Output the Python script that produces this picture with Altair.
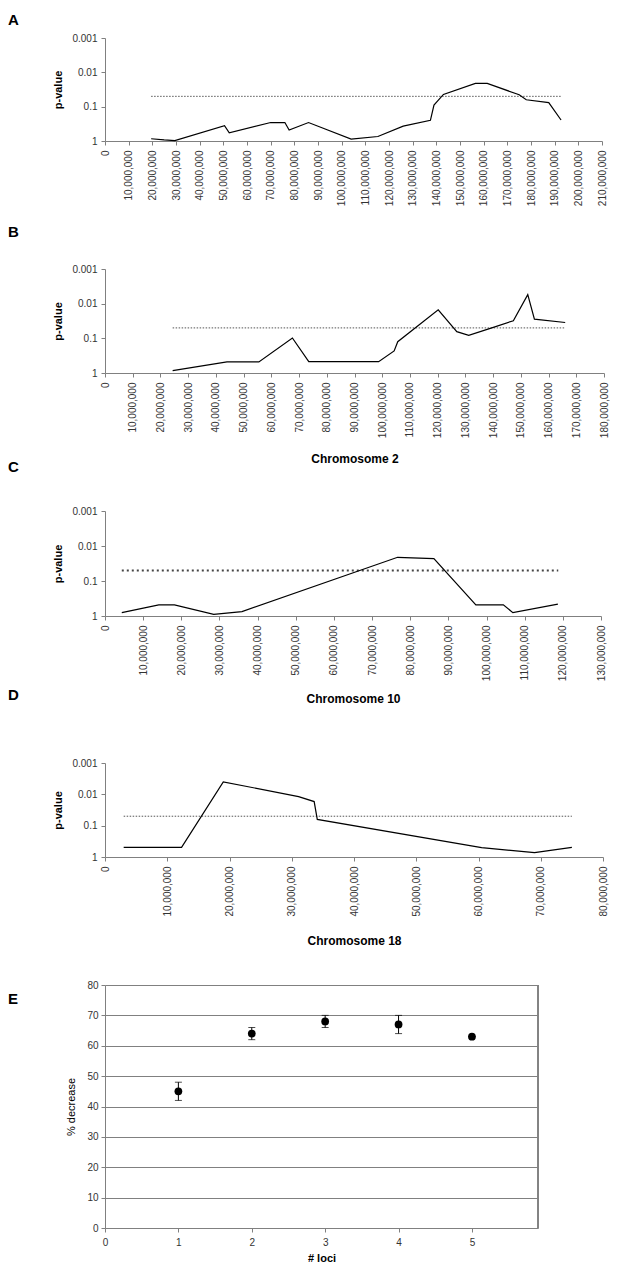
import altair as alt
import pandas as pd

FONT = "Liberation Sans"
AXIS_GRAY = "#808080"
LABEL_COLOR = "#333333"

# ---------------- data ----------------
THR_P = [0.05, 0.05]

a_pos = [19_500_000, 25_000_000, 29_500_000, 50_500_000, 52_500_000, 70_000_000, 76_000_000,
         77_800_000, 86_000_000, 104_000_000, 115_300_000, 126_000_000, 137_500_000, 139_000_000,
         143_000_000, 156_500_000, 161_500_000, 175_000_000, 178_000_000, 187_500_000, 192_700_000]
a_p = [0.86, 0.93, 0.97, 0.36, 0.58, 0.29, 0.29, 0.48, 0.29, 0.88, 0.74, 0.37, 0.25, 0.09,
       0.044, 0.021, 0.021, 0.045, 0.063, 0.076, 0.245]
a_thr = [19_500_000, 192_700_000]

b_pos = [24_400_000, 44_000_000, 55_500_000, 67_600_000, 73_500_000, 98_700_000, 104_300_000,
         105_600_000, 120_200_000, 126_900_000, 131_200_000, 139_800_000, 147_300_000,
         152_500_000, 154_900_000, 166_000_000]
b_p = [0.85, 0.48, 0.48, 0.098, 0.47, 0.47, 0.23, 0.125, 0.015, 0.064, 0.082, 0.049, 0.031,
       0.0055, 0.028, 0.035]
b_thr = [24_400_000, 166_000_000]

c_pos = [4_400_000, 14_100_000, 18_200_000, 28_500_000, 35_900_000, 76_700_000, 86_200_000,
         97_200_000, 104_400_000, 106_900_000, 118_700_000]
c_p = [0.80, 0.48, 0.48, 0.90, 0.75, 0.021, 0.023, 0.48, 0.48, 0.80, 0.46]
c_thr = [4_400_000, 118_800_000]

d_pos = [3_000_000, 12_300_000, 19_000_000, 31_100_000, 33_600_000, 34_100_000, 60_500_000,
         69_000_000, 75_000_000]
d_p = [0.49, 0.49, 0.004, 0.0118, 0.017, 0.063, 0.50, 0.73, 0.49]
d_thr = [3_000_000, 75_000_000]

e_loci = [1, 2, 3, 4, 5]
e_mean = [45, 64, 68, 67, 63]
e_lo = [42, 62, 66, 64, 63]
e_hi = [48, 66, 70, 70, 63]
E_XMAX = 5.9

P_TICKS = [0.001, 0.01, 0.1, 1]
LETTER_DX = -97


def letter_title(letter, offset, dy):
    return alt.TitleParams(text=letter, anchor="start", frame="group", orient="top",
                           offset=offset, dx=LETTER_DX, dy=dy, baseline="alphabetic",
                           fontSize=15, fontWeight="bold", font=FONT, color="black")


def chrom_panel(letter, pos, pv, thr, xmax, width, pad_top, plot_h, t_offset, t_dy,
                xtitle, xtitle_pad, dash, dash_w, dash_c):
    h = pad_top + plot_h
    line_df = pd.DataFrame({"pos": pos, "p": pv})
    thr_df = pd.DataFrame({"pos": thr, "p": THR_P})
    x_axis = alt.Axis(values=list(range(0, xmax + 1, 10_000_000)), format=",d", labelAngle=270,
                      labelFlush=False, labelOverlap=False, labelPadding=5,
                      title=xtitle, titlePadding=xtitle_pad, titleFontSize=12,
                      titleFontWeight="bold")
    x = alt.X("pos:Q", scale=alt.Scale(domain=[0, xmax], nice=False, zero=False), axis=x_axis)
    y = alt.Y("p:Q",
              scale=alt.Scale(type="log", domain=[0.001, 1], range=[pad_top, h], nice=False),
              axis=alt.Axis(values=P_TICKS, format="~g", labelPadding=4, labelOverlap=False,
                            title="p-value", titlePadding=8, titleFontSize=11,
                            titleFontWeight="bold"))
    line = alt.Chart(line_df).mark_line(color="black", strokeWidth=1.2).encode(x=x, y=y)
    thr_line = alt.Chart(thr_df).mark_line(color=dash_c, strokeWidth=dash_w,
                                           strokeDash=dash).encode(x=x, y=y)
    return alt.layer(thr_line, line).properties(width=width, height=h,
                                               title=letter_title(letter, t_offset, t_dy))


A = chrom_panel("A", a_pos, a_p, a_thr, 210_000_000, 497, 0, 103, 13, 20,
                None, 10, [1.5, 1.5], 1, "#555555")
B = chrom_panel("B", b_pos, b_p, b_thr, 180_000_000, 499, 128, 104, 0, 111.4,
                "Chromosome 2", 16, [1.5, 1.5], 1, "#555555")
C = chrom_panel("C", c_pos, c_p, c_thr, 130_000_000, 496, 138, 105, 0, 113.7,
                "Chromosome 10", 13, [2, 3], 2, "#444444")
D = chrom_panel("D", d_pos, d_p, d_thr, 80_000_000, 498, 147, 94, 0, 99.1,
                "Chromosome 18", 19, [1.5, 1.5], 1, "#555555")

# ---------------- panel E ----------------
E_PAD = 128
E_PLOT_H = 243
E_H = E_PAD + E_PLOT_H
e_df = pd.DataFrame({"loci": e_loci, "dec": e_mean, "lo": e_lo, "hi": e_hi})

ex = alt.X("loci:Q", scale=alt.Scale(domain=[0, E_XMAX], nice=False, zero=False),
           axis=alt.Axis(values=[0, 1, 2, 3, 4, 5], format="d", labelAngle=0, labelFlush=False,
                         labelPadding=5, title="# loci", titleFontSize=11,
                         titleFontWeight="bold", titlePadding=5))
y_scale_e = alt.Scale(domain=[0, 80], range=[E_H, E_PAD], nice=False, zero=True)
y_axis_e = alt.Axis(values=list(range(0, 81, 10)), grid=True, gridColor=AXIS_GRAY,
                    gridWidth=1, labelPadding=3, title="% decrease", titleFontSize=11,
                    titleFontWeight="normal", titlePadding=10)
ey = alt.Y("dec:Q", scale=y_scale_e, axis=y_axis_e)
ey_lo = alt.Y("lo:Q", scale=y_scale_e, axis=y_axis_e)
ey_hi = alt.Y("hi:Q", scale=y_scale_e, axis=y_axis_e)

e_base = alt.Chart(e_df)
e_border = alt.Chart(e_df).mark_rule(color=AXIS_GRAY, strokeWidth=1).encode(
    x=alt.datum(E_XMAX), y=alt.datum(0), y2=alt.datum(80))
e_bars = e_base.mark_rule(color="black", strokeWidth=1).encode(x=ex, y=ey_lo, y2="hi:Q")
e_cap_lo = e_base.mark_tick(orient="horizontal", size=7, thickness=1, color="black").encode(
    x=ex, y=ey_lo)
e_cap_hi = e_base.mark_tick(orient="horizontal", size=7, thickness=1, color="black").encode(
    x=ex, y=ey_hi)
e_pts = e_base.mark_circle(size=60, color="black", opacity=1).encode(x=ex, y=ey)

E = alt.layer(e_border, e_bars, e_cap_lo, e_cap_hi, e_pts).properties(
    width=433, height=E_H, title=letter_title("E", 0, 162.1))

chart = alt.vconcat(A, B, C, D, E, spacing=0, bounds="flush").properties(
    padding={"left": 0, "top": 5, "right": 0, "bottom": 0}
).configure_view(stroke=None).configure_axis(
    labelFont=FONT, titleFont=FONT, labelFontSize=10, labelColor=LABEL_COLOR,
    domainColor=AXIS_GRAY, tickColor=AXIS_GRAY, tickSize=4, titleColor="black", grid=False
).configure_title(font=FONT)

chart.save("out.html", embed_options={"renderer": "svg", "actions": False})
